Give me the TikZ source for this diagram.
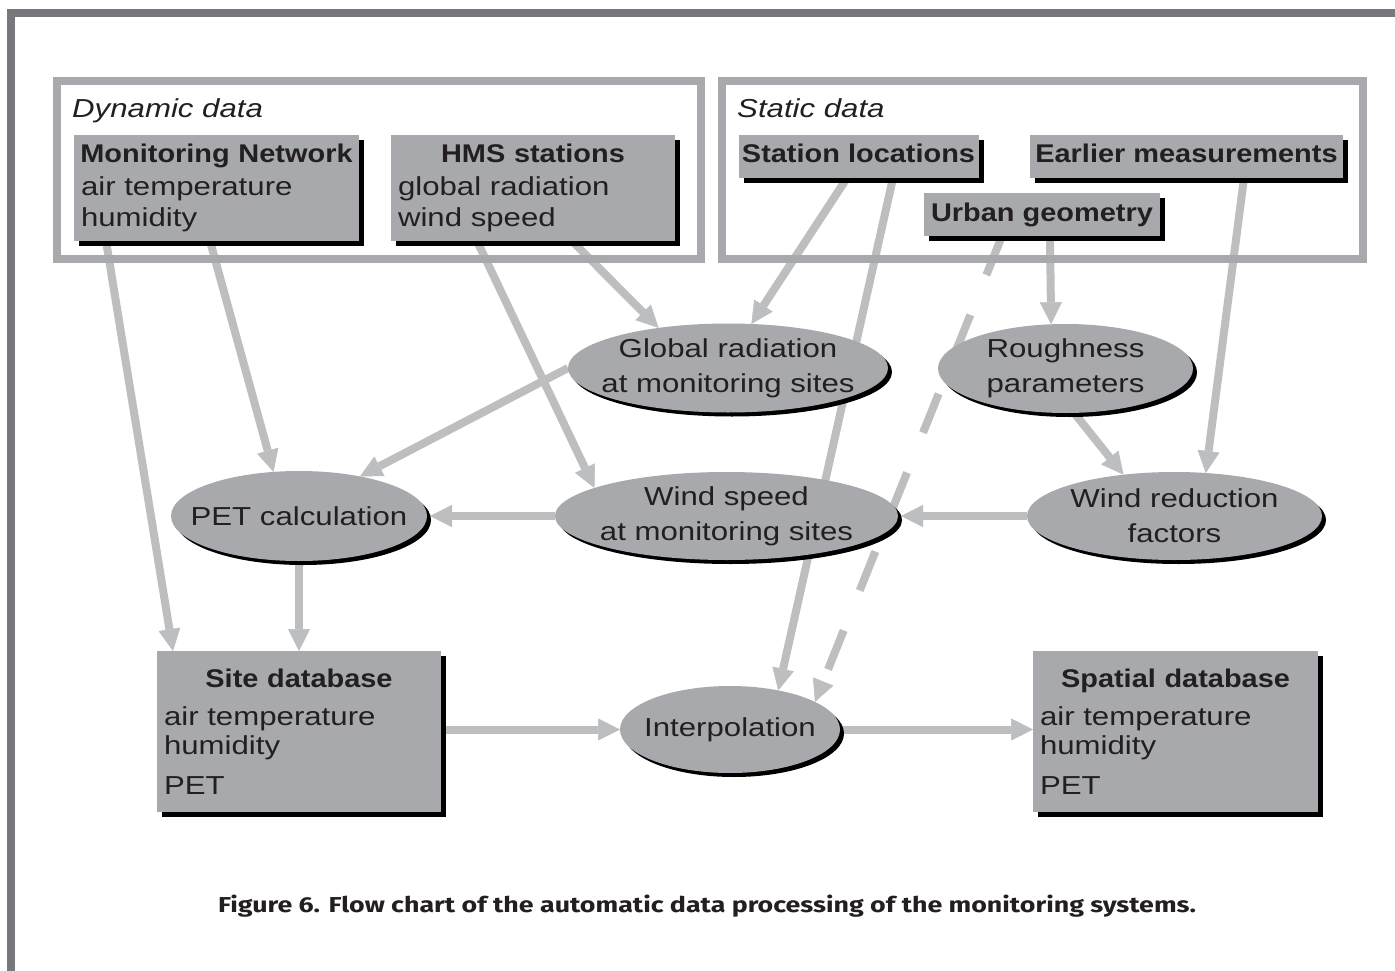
\documentclass[tikz,border=0pt]{standalone}
\usepackage{fontspec}
\usepackage{graphicx}
\usetikzlibrary{shapes.geometric,arrows.meta,shadows,calc}
\newfontfamily\dfont{Liberation Sans}[FakeStretch=1.2]
\newfontfamily\dbfont{Liberation Sans}[FakeStretch=1.13]
\newfontfamily\capfont{Fira Sans}
\definecolor{frameout}{HTML}{77787B}
\definecolor{grp}{HTML}{A7A9AC}
\definecolor{boxfill}{HTML}{A7A9AC}
\definecolor{conncol}{HTML}{BCBEC0}
\definecolor{txt}{HTML}{231F20}
\newcommand\btitle[1]{{\dbfont\fontsize{25.6}{31}\selectfont\bfseries #1}}
\newcommand\ctitle[2]{\makebox[#1][c]{\btitle{#2}}}
\pgfdeclarelayer{bg}
\pgfdeclarelayer{mid}
\pgfsetlayers{bg,mid,main}
\tikzset{
  databox/.style={rectangle, fill=boxfill, inner xsep=7pt, inner ysep=0pt, outer sep=0pt, align=left,
    general shadow={fill=black, shadow xshift=5pt, shadow yshift=-5pt}},
  tagbox/.style={rectangle, fill=boxfill, inner sep=0pt, outer sep=0pt, text height=19pt, text depth=6pt,
    font=\dbfont\fontsize{25.6}{31}\selectfont\bfseries,
    general shadow={fill=black, shadow xshift=5pt, shadow yshift=-5pt}},
  ellnode/.style={ellipse, fill=boxfill, inner sep=0pt, outer sep=0pt,
    general shadow={fill=black, shadow xshift=4pt, shadow yshift=-4pt}},
  elltext/.style={align=center, inner sep=0pt, text=txt, font=\dfont\fontsize{26}{35}\selectfont},
  conn/.style={draw=conncol, line width=8pt, -{Triangle[width=22pt,length=22pt,line width=0.5pt]}},
  dashconn/.style={conn, dash pattern=on 42pt off 43pt},
  grpframe/.style={draw=grp, line width=8pt},
  grplabel/.style={anchor=base west, inner sep=0pt, text=txt, font=\dfont\fontsize{26}{31}\selectfont\itshape},
}
\begin{document}
\begin{tikzpicture}[x=1pt, y=-1pt, font=\dfont\fontsize{26}{31}\selectfont, text=txt]
\clip (0,0) rectangle (1395,971);
% outer frame
\draw[draw=frameout, line width=8pt] (10.8,13.3) rectangle (1420,1000);
% group frames
\begin{pgfonlayer}{mid}
\draw[grpframe] (57,81.5) rectangle (701,259);
\draw[grpframe] (722,81.5) rectangle (1363,259);
\end{pgfonlayer}
\node[grplabel] (dynlbl) at (72,118) {Dynamic data};
\node[grplabel] (statlbl) at (737,118) {Static data};
% data boxes
\node[databox, minimum width=285pt, minimum height=106pt, text width=271pt] (mn) at (216.5,188)
  {\ctitle{271pt}{Monitoring Network}\\[2pt]air temperature\\humidity};
\node[databox, minimum width=284pt, minimum height=106pt, text width=270pt] (hms) at (533,188)
  {\ctitle{270pt}{HMS stations}\\[2pt]global radiation\\wind speed};
\node[tagbox, minimum width=240pt, minimum height=43pt] (sl) at (858.5,156.5) {Station locations};
\node[tagbox, minimum width=313pt, minimum height=43pt] (em) at (1186.5,156.5) {Earlier measurements};
\node[tagbox, minimum width=236pt, minimum height=43pt] (ug) at (1042,214.5) {Urban geometry};
\node[databox, minimum width=284pt, minimum height=161pt, text width=270pt] (sdb) at (299,731.5)
  {\ctitle{270pt}{Site database}\\[7pt]air temperature\\[-2pt]humidity\\[9pt]PET};
\node[databox, minimum width=285pt, minimum height=161pt, text width=271pt] (spdb) at (1175.5,731.5)
  {\ctitle{271pt}{Spatial database}\\[7pt]air temperature\\[-2pt]humidity\\[9pt]PET};
% ellipses
\node[ellnode, minimum width=320pt, minimum height=89pt,
  label={[elltext]center:{Global radiation\\at monitoring sites}}] (gr) at (728,368) {};
\node[ellnode, minimum width=255pt, minimum height=89pt,
  label={[elltext]center:{Roughness\\parameters}}] (rough) at (1065.5,368.5) {};
\node[ellnode, minimum width=256pt, minimum height=90pt,
  label={[elltext]center:{PET calculation}}] (pet) at (299,516) {};
\node[ellnode, minimum width=343pt, minimum height=88pt,
  label={[elltext]center:{Wind speed\\at monitoring sites}}] (ws) at (726.5,516) {};
\node[ellnode, minimum width=295pt, minimum height=88pt,
  label={[elltext]center:{Wind reduction\\factors}}] (wr) at (1174.5,516) {};
\node[ellnode, minimum width=220pt, minimum height=87pt,
  label={[elltext]center:{Interpolation}}] (interp) at (730,729.5) {};
% connectors
\begin{pgfonlayer}{bg}
\draw[conn] ($(mn.south west)+(32,0)$) -- ($(sdb.north west)+(16,0)$);
\draw[conn] ($(mn.south west)+(136,0)$) -- (pet.120.6);
\draw[conn] ($(hms.south west)+(86,0)$) -- (ws.168.5);
\draw[conn] ($(hms.south west)+(181,0)$) -- (gr.150.3);
\draw[conn] ($(sl.south west)+(108.5,0)$) -- (gr.62.4);
\draw[conn] ($(sl.south west)+(154.5,0)$) -- (interp.39.2);
\draw[dashconn] ($(ug.south west)+(78,0)$) -- (interp.18.2);
\draw[conn] ($(ug.south west)+(126,0)$) -- (rough.108.7);
\draw[conn] ($(em.south west)+(214,0)$) -- (wr.54.7);
\draw[conn] (rough.-79.8) -- (wr.141.3);
\draw[conn] (gr.west) -- (pet.33);
\draw[conn] (ws.west) -- ($(pet.east)+(3,0)$);
\draw[conn] (wr.west) -- ($(ws.east)+(3,0)$);
\draw[conn] (pet.south) -- (sdb.north);
\draw[conn] (sdb.east |- interp.west) -- (interp.west);
\draw[conn] (interp.east) -- (spdb.west |- interp.east);
\end{pgfonlayer}
% caption
\node[anchor=base, inner sep=0pt, text=txt] (cap) at (707,912)
  {\resizebox{978pt}{17.5pt}{\capfont\bfseries Figure 6. Flow chart of the automatic data processing of the monitoring systems.}};
\end{tikzpicture}
\end{document}
